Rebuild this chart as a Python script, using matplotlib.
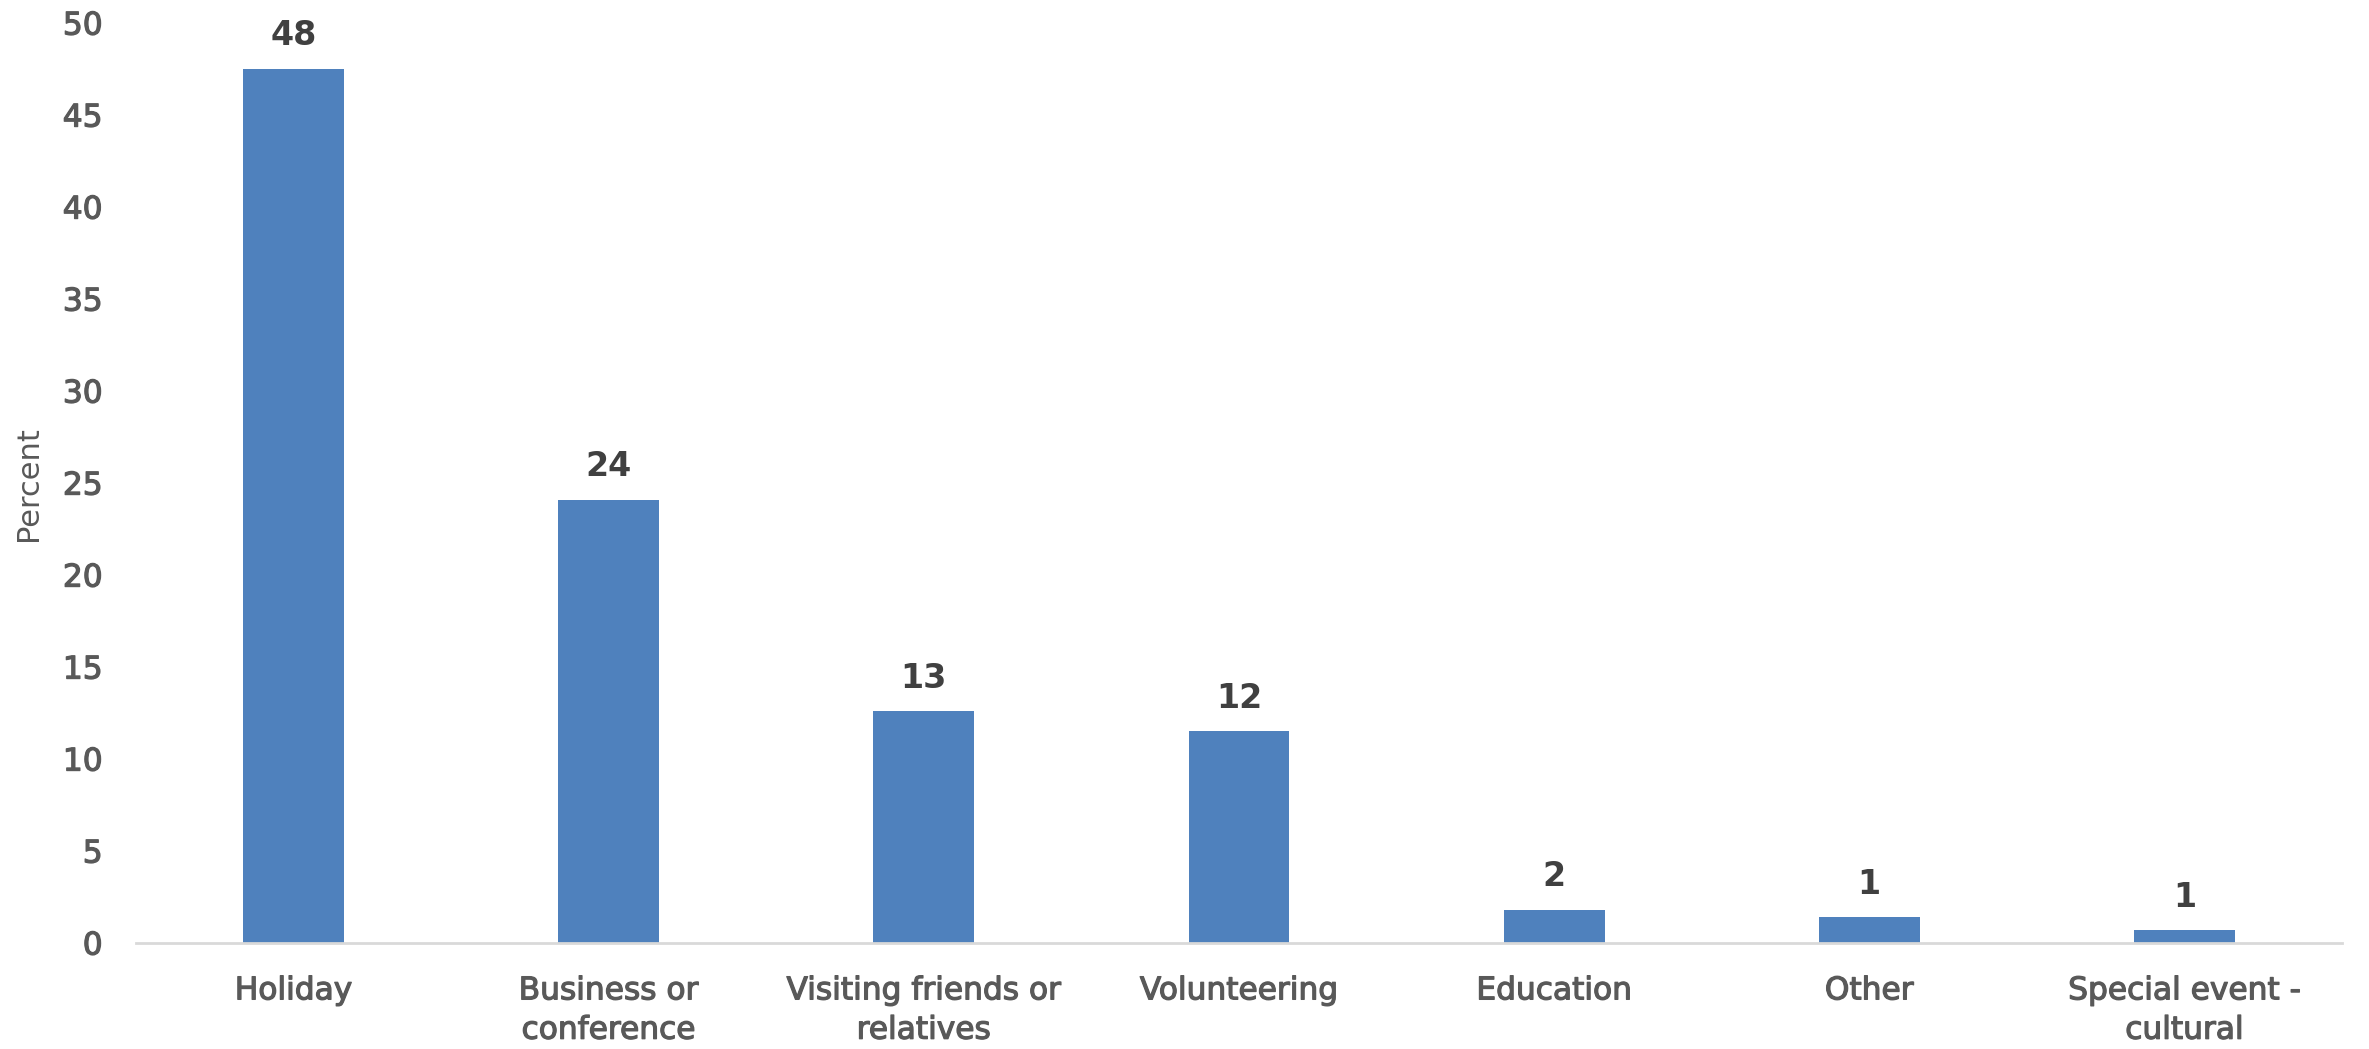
import numpy as np
import matplotlib
matplotlib.use("Agg")
import matplotlib.pyplot as plt
import matplotlib.patheffects as pe

# purpose of visit, percent of respondents
categories = ["Holiday", "Business or\nconference", "Visiting friends or\nrelatives",
              "Volunteering", "Education", "Other", "Special event -\ncultural"]
percent = [47.5, 24.1, 12.6, 11.5, 1.8, 1.4, 0.7]
labels = ["48", "24", "13", "12", "2", "1", "1"]

plt.rcParams['font.family'] = ['DejaVu Sans']

fig = plt.figure(figsize=(23.69, 10.49), dpi=100)
ax = fig.add_axes([0.0574, 0.101, 0.9312, 0.877])

x = np.arange(len(categories))
bars = ax.bar(x, percent, width=0.32, color="#4F81BD", zorder=2)

for b, lab in zip(bars, labels):
    ax.annotate(lab, (b.get_x() + b.get_width() / 2, b.get_height()),
                xytext=(0, 12), textcoords="offset points",
                ha="center", va="bottom", fontsize=24, fontweight="bold",
                color="#404040")

ax.set_xlim(-0.5, len(categories) - 0.5)
ax.set_ylim(0, 50)
ax.set_yticks(range(0, 51, 5))
ax.set_xticks(x)
ax.set_xticklabels(categories, linespacing=1.45)

ax.tick_params(axis="y", length=0, pad=24, labelsize=22.5, labelcolor="#595959")
ax.tick_params(axis="x", length=0, pad=24, labelsize=22.5, labelcolor="#595959")

# make the tick text a bit heavier, like a medium weight
heavy = [pe.withStroke(linewidth=0.9, foreground="#595959")]
for t in ax.get_xticklabels() + ax.get_yticklabels():
    t.set_path_effects(heavy)

for s in ["top", "right", "left"]:
    ax.spines[s].set_visible(False)
ax.spines["bottom"].set_color("#D9D9D9")
ax.spines["bottom"].set_linewidth(2)

ax.set_ylabel("Percent", fontsize=22, color="#595959", labelpad=14)

fig.savefig("out.png", dpi=100)
